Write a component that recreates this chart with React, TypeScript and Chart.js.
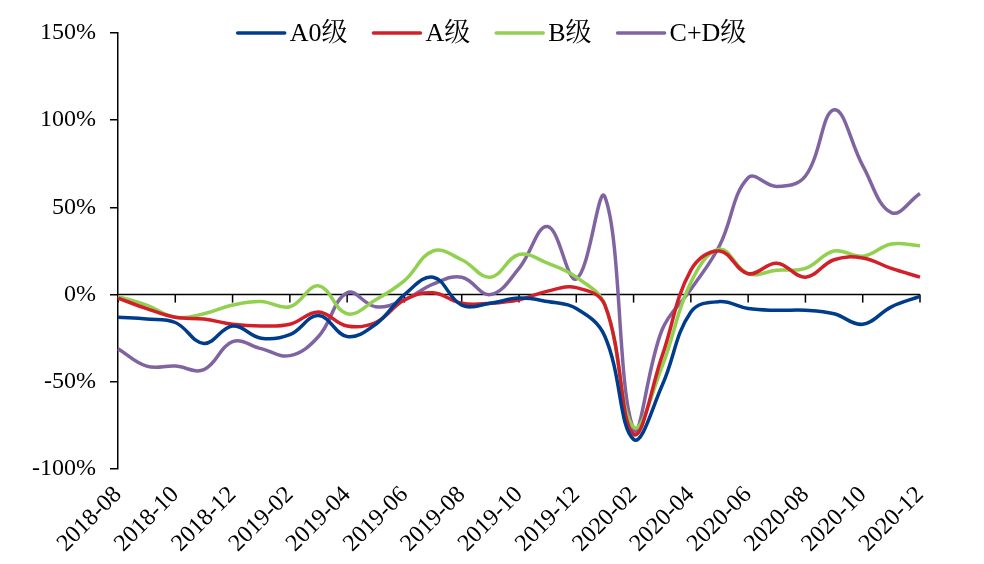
import { useEffect, useRef } from 'react';
import { Chart, registerables } from 'chart.js';

Chart.register(...registerables);

const FONT = "'Liberation Serif', 'Times New Roman', 'Noto Serif CJK SC', 'Noto Sans CJK SC', serif";

const months = [
  '2018-08', '2018-09', '2018-10', '2018-11', '2018-12',
  '2019-01', '2019-02', '2019-03', '2019-04', '2019-05', '2019-06',
  '2019-07', '2019-08', '2019-09', '2019-10', '2019-11', '2019-12',
  '2020-01', '2020-02', '2020-03', '2020-04', '2020-05', '2020-06',
  '2020-07', '2020-08', '2020-09', '2020-10', '2020-11', '2020-12',
];

const seriesNames = ['A0级', 'A级', 'B级', 'C+D级'];
const seriesColors = ['#003C8C', '#D2202A', '#92D050', '#8064A2'];

// year-on-year change, %
const a0Level = [-13, -14, -16, -28, -18, -25, -23, -12, -24, -17, 0, 10, -6, -5, -2, -4, -8, -24, -83, -52, -10, -4, -8, -9, -9, -11, -17, -7, -1];
const aLevel = [-2, -8, -13, -14, -17, -18, -17, -10, -18, -16, -3, 1, -5, -5, -3, 2, 4, -6, -80, -35, 14, 25, 12, 18, 10, 20, 21, 15, 10];
const bLevel = [-1, -6, -13, -11, -6, -4, -7, 5, -11, -3, 8, 25, 20, 10, 23, 18, 10, -6, -76, -41, 7, 26, 12, 14, 15, 25, 22, 29, 28];
const cdLevel = [-31, -41, -41, -43, -27, -31, -35, -24, 1, -7, -3, 6, 10, 0, 15, 39, 9, 56, -77, -20, 3, 28, 67, 62, 68, 106, 74, 47, 58];

const yMin = -100;
const yMax = 150;
const yStep = 50;

// horizontal axis line at 0% with downward tick marks every two months
const zeroAxisPlugin = {
  id: 'zeroAxis',
  beforeDatasetsDraw(chart: any) {
    const { ctx, chartArea, scales } = chart;
    const y0 = scales.y.getPixelForValue(0);
    ctx.save();
    ctx.strokeStyle = '#000';
    ctx.lineWidth = 1.5;
    ctx.beginPath();
    ctx.moveTo(chartArea.left, y0);
    ctx.lineTo(chartArea.right, y0);
    ctx.stroke();
    for (let i = 0; i < months.length; i += 2) {
      const x = scales.x.getPixelForValue(i);
      ctx.beginPath();
      ctx.moveTo(x, y0);
      ctx.lineTo(x, y0 + 8);
      ctx.stroke();
    }
    ctx.restore();
  },
};

// centred legend row drawn across the top of the plot
const topLegendPlugin = {
  id: 'topLegend',
  afterDraw(chart: any) {
    const { ctx } = chart;
    ctx.save();
    ctx.font = `26px ${FONT}`;
    const lineLen = 47;
    const textGap = 5;
    const itemGap = 26;
    const items = chart.data.datasets.map((ds: any) => ({
      label: ds.label as string,
      color: ds.borderColor as string,
      w: ctx.measureText(ds.label).width,
    }));
    const total = items.reduce((s: number, it: any) => s + lineLen + textGap + it.w, 0) + itemGap * (items.length - 1);
    let x = chart.width / 2 - total / 2;
    const y = 33;
    ctx.textBaseline = 'middle';
    ctx.textAlign = 'left';
    for (const it of items) {
      ctx.strokeStyle = it.color;
      ctx.lineWidth = 3.5;
      ctx.lineCap = 'round';
      ctx.beginPath();
      ctx.moveTo(x, y);
      ctx.lineTo(x + lineLen, y);
      ctx.stroke();
      x += lineLen + textGap;
      ctx.fillStyle = '#000';
      ctx.fillText(it.label, x, y + 1);
      x += it.w + itemGap;
    }
    ctx.restore();
  },
};

export default function App() {
  const canvasRef = useRef<HTMLCanvasElement | null>(null);

  useEffect(() => {
    if (!canvasRef.current) return;
    const values = [a0Level, aLevel, bLevel, cdLevel];
    const chart = new Chart(canvasRef.current, {
      type: 'line',
      data: {
        labels: months,
        datasets: seriesNames.map((name, i) => ({
          label: name,
          data: values[i],
          borderColor: seriesColors[i],
          backgroundColor: seriesColors[i],
          borderWidth: 3.5,
          pointRadius: 0,
          tension: 0.4,
          fill: false,
        })),
      },
      options: {
        animation: false,
        responsive: false,
        layout: { padding: { top: 33, right: 64, left: 0, bottom: 0 } },
        plugins: {
          legend: { display: false },
          tooltip: { enabled: false },
        },
        scales: {
          x: {
            type: 'category',
            offset: false,
            grid: { display: false },
            border: { display: false },
            ticks: {
              autoSkip: false,
              minRotation: 45,
              maxRotation: 45,
              color: '#000',
              padding: 4,
              font: { family: FONT, size: 24 },
              callback: (_v: any, i: number) => (i % 2 === 0 ? months[i] : ''),
            },
            afterFit: (s: any) => {
              s.height = 95;
            },
          },
          y: {
            min: yMin,
            max: yMax,
            grid: {
              drawOnChartArea: false,
              drawTicks: true,
              tickLength: 8,
              color: '#000',
              lineWidth: 1.5,
            },
            border: { display: true, color: '#000', width: 1.5 },
            ticks: {
              stepSize: yStep,
              color: '#000',
              padding: 14,
              font: { family: FONT, size: 24 },
              callback: (v: any) => `${v}%`,
            },
            afterFit: (s: any) => {
              s.width = 118;
            },
          },
        },
      },
      plugins: [zeroAxisPlugin, topLegendPlugin],
    });
    return () => chart.destroy();
  }, []);

  return (
    <div style={{ position: 'absolute', left: 0, top: 0, width: 984, height: 564, background: '#fff' }}>
      <canvas ref={canvasRef} width={984} height={564} style={{ display: 'block' }} />
    </div>
  );
}
